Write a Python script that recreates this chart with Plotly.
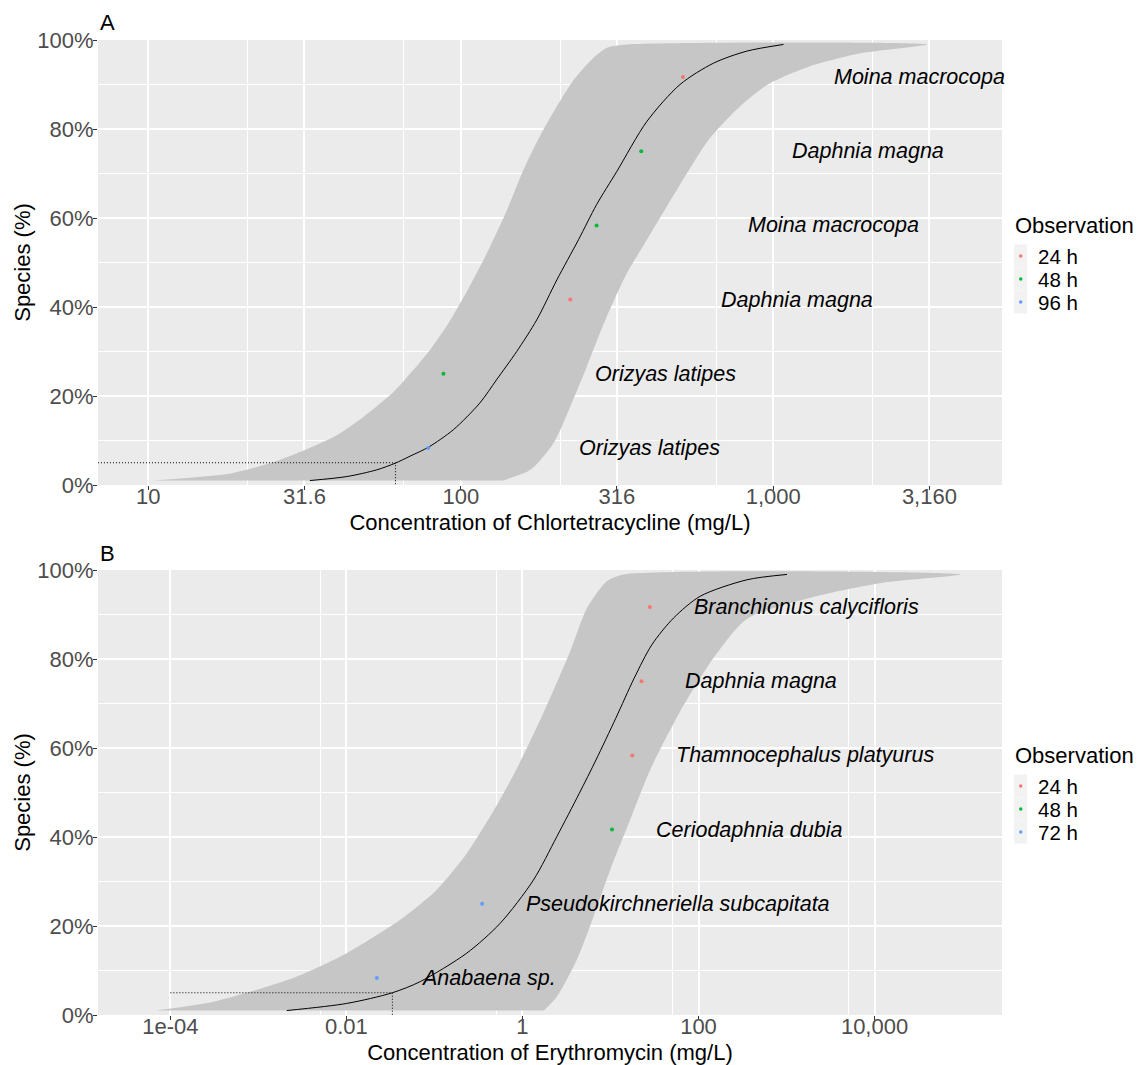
import numpy as np
import plotly.graph_objects as go

# ---------------- data: panel A (Chlortetracycline) ----------------
a_species = ["Orizyas latipes", "Orizyas latipes", "Daphnia magna",
             "Moina macrocopa", "Daphnia magna", "Moina macrocopa"]
a_conc = [78.7, 88.0, 224, 272, 378, 514]
a_frac = [0.0833, 0.25, 0.4167, 0.5833, 0.75, 0.9167]
a_obs = ["96 h", "48 h", "24 h", "48 h", "48 h", "24 h"]
a_levels = ["24 h", "48 h", "96 h"]

a_curve_frac = [0.01, 0.019, 0.034, 0.049, 0.065, 0.085, 0.124, 0.184, 0.236, 0.300,
                0.371, 0.461, 0.551, 0.630, 0.705, 0.817, 0.900, 0.948, 0.975, 0.99]
a_curve_conc = [32.9, 43.2, 53.8, 61.7, 68.9, 78.8, 94.6, 115, 130, 151,
                175, 203, 238, 272, 316, 394, 503, 644, 823, 1078]

a_lo_frac = [0.01, 0.026, 0.049, 0.077, 0.112, 0.153, 0.206, 0.236, 0.296, 0.363,
             0.453, 0.535, 0.62, 0.705, 0.802, 0.907, 0.960, 0.983, 0.99]
a_lo_conc = [10.3, 18.3, 24.5, 31.3, 40.1, 48.8, 60.3, 66.1, 78.2, 91.2,
             108, 124, 141, 158, 185, 228, 266, 295, 340]
a_hi_frac = [0.01, 0.034, 0.094, 0.176, 0.266, 0.378, 0.476, 0.551, 0.667, 0.775,
             0.850, 0.900, 0.940, 0.970, 0.99]
a_hi_conc = [136, 167, 198, 224, 253, 293, 340, 394, 495, 620,
             780, 960, 1300, 1900, 3105]

a_hc5 = 61.8
a_hc_start = 6.9
a_xticks = [10, 31.6, 100, 316, 1000, 3160]
a_xticktext = ["10", "31.6", "100", "316", "1,000", "3,160"]
a_xminor = [20.8, 65.8, 208, 658, 2080]
a_xrange_log = [0.839, 3.732]
a_xtitle = "Concentration of Chlortetracycline (mg/L)"

# ---------------- data: panel B (Erythromycin) ----------------
b_species = ["Anabaena sp.", "Pseudokirchneriella subcapitata", "Ceriodaphnia dubia",
             "Thamnocephalus platyurus", "Daphnia magna", "Branchionus calycifloris"]
b_conc = [0.0222, 0.348, 10.4, 17.7, 22.5, 28.0]
b_frac = [0.0833, 0.25, 0.4167, 0.5833, 0.75, 0.9167]
b_obs = ["72 h", "72 h", "48 h", "24 h", "24 h", "24 h"]
b_levels = ["24 h", "48 h", "72 h"]

b_curve_frac = [0.01, 0.026, 0.050, 0.075, 0.139, 0.206, 0.303, 0.401, 0.498, 0.573,
                0.667, 0.757, 0.832, 0.892, 0.941, 0.978, 0.99]
b_curve_conc = [0.0021, 0.0101, 0.0333, 0.0689, 0.233, 0.558, 1.33, 2.46, 4.42, 6.84,
                11.5, 18.6, 29.5, 52.0, 104.5, 355, 1012]

b_lo_frac = [0.01, 0.030, 0.052, 0.086, 0.139, 0.206, 0.236, 0.281, 0.363, 0.461,
             0.555, 0.682, 0.817, 0.915, 0.975, 0.99]
b_lo_conc = [6.9e-5, 3.1e-4, 8.0e-4, 2.7e-3, 0.0101, 0.0357, 0.0573, 0.106, 0.233, 0.477,
             0.870, 1.76, 3.48, 5.43, 9.1, 14.1]
b_hi_frac = [0.01, 0.041, 0.124, 0.221, 0.326, 0.438, 0.551, 0.682, 0.802, 0.89,
             0.943, 0.972, 0.99]
b_hi_conc = [1.75, 2.46, 4.15, 6.41, 9.93, 16.7, 28.3, 61.9, 148, 355,
             2400, 13000, 94200]

b_hc5 = 0.0333
b_hc_start = 1e-4
b_xticks = [1e-4, 0.01, 1, 100, 10000]
b_xticktext = ["1e-04", "0.01", "1", "100", "10,000"]
b_xminor = [0.00505, 0.505, 50.5, 5050]
b_xrange_log = [-4.822, 5.448]
b_xtitle = "Concentration of Erythromycin (mg/L)"

y_ticks = [0, 0.2, 0.4, 0.6, 0.8, 1.0]
y_ticktext = ["0%", "20%", "40%", "60%", "80%", "100%"]
y_minor = [0.1, 0.3, 0.5, 0.7, 0.9]

palette = ["#F8766D", "#00BA38", "#619CFF"]
label_shift = 3.0

# ---------------- layout geometry ----------------
W, H = 1137, 1065
ML, MR, MT, MB = 98, 135, 40, 50
PW = W - ML - MR
PH = H - MT - MB
FONT = "Liberation Sans, Arial, Helvetica, sans-serif"


def pxx(x):
    return (x - ML) / PW


def pxy(y):
    return 1 - (y - MT) / PH


fig = go.Figure()
annotations = []
shapes = []

panels = [
    dict(xa="x", ya="y", species=a_species, conc=a_conc, frac=a_frac, obs=a_obs,
         levels=a_levels, cf=a_curve_frac, cc=a_curve_conc, lf=a_lo_frac, lc=a_lo_conc,
         hf=a_hi_frac, hc=a_hi_conc, hc5=a_hc5, hcs=a_hc_start, tag="A", off=0),
    dict(xa="x2", ya="y2", species=b_species, conc=b_conc, frac=b_frac, obs=b_obs,
         levels=b_levels, cf=b_curve_frac, cc=b_curve_conc, lf=b_lo_frac, lc=b_lo_conc,
         hf=b_hi_frac, hc=b_hi_conc, hc5=b_hc5, hcs=b_hc_start, tag="B", off=530),
]

KEY_H = 23
for p in panels:
    # confidence ribbon
    fig.add_trace(go.Scatter(
        x=p["lc"] + p["hc"][::-1], y=p["lf"] + p["hf"][::-1],
        xaxis=p["xa"], yaxis=p["ya"], mode="lines", fill="toself",
        fillcolor="#C6C6C6", line=dict(width=0, shape="spline", smoothing=0.7),
        showlegend=False, hoverinfo="skip"))
    # HC5 dotted guides
    fig.add_trace(go.Scatter(
        x=[p["hcs"], p["hc5"], p["hc5"]], y=[0.05, 0.05, 0],
        xaxis=p["xa"], yaxis=p["ya"], mode="lines",
        line=dict(color="black", width=1, dash="1px,2px"),
        showlegend=False, hoverinfo="skip"))
    # fitted curve
    fig.add_trace(go.Scatter(
        x=p["cc"], y=p["cf"], xaxis=p["xa"], yaxis=p["ya"], mode="lines",
        line=dict(color="black", width=1, shape="spline", smoothing=0.8),
        showlegend=False, hoverinfo="skip"))
    # points by observation group
    for i, lev in enumerate(p["levels"]):
        xs = [c for c, o in zip(p["conc"], p["obs"]) if o == lev]
        ys = [f for f, o in zip(p["frac"], p["obs"]) if o == lev]
        fig.add_trace(go.Scatter(
            x=xs, y=ys, xaxis=p["xa"], yaxis=p["ya"], mode="markers",
            marker=dict(color=palette[i], size=4), name=lev, showlegend=False))
    # species labels
    for s, c, f in zip(p["species"], p["conc"], p["frac"]):
        annotations.append(dict(
            x=np.log10(c * label_shift), y=f, xref=p["xa"], yref=p["ya"],
            text=s, showarrow=False, xanchor="left", yanchor="middle",
            font=dict(family=FONT, size=21.5, color="black", style="italic")))
    # panel tag
    off = p["off"]
    annotations.append(dict(
        x=pxx(98), y=pxy(23 + off), xref="paper", yref="paper", text=p["tag"],
        showarrow=False, xanchor="left", yanchor="middle",
        font=dict(family=FONT, size=22, color="black")))
    # manual ggplot-style legend
    annotations.append(dict(
        x=pxx(1013), y=pxy(225 + off), xref="paper", yref="paper", text="Observation",
        showarrow=False, xanchor="left", yanchor="middle",
        font=dict(family=FONT, size=22, color="black")))
    for i, lev in enumerate(p["levels"]):
        top = 244.5 + off + KEY_H * i
        shapes.append(dict(type="rect", xref="paper", yref="paper",
                           x0=pxx(1014), x1=pxx(1027), y0=pxy(top), y1=pxy(top + KEY_H),
                           fillcolor="#F2F2F2", line=dict(width=0), layer="above"))
        cy = top + KEY_H / 2
        shapes.append(dict(type="circle", xref="paper", yref="paper",
                           x0=pxx(1019), x1=pxx(1022.5), y0=pxy(cy - 1.75), y1=pxy(cy + 1.75),
                           fillcolor=palette[i], line=dict(width=0), layer="above"))
        annotations.append(dict(
            x=pxx(1036), y=pxy(cy), xref="paper", yref="paper", text=lev,
            showarrow=False, xanchor="left", yanchor="middle",
            font=dict(family=FONT, size=20.5, color="black")))

tick_common = dict(ticks="outside", ticklen=4, tickwidth=1, tickcolor="#333333",
                   tickfont=dict(family=FONT, size=22, color="#4D4D4D"),
                   showgrid=True, gridcolor="white", gridwidth=1.8,
                   zeroline=False, showline=False, automargin=False)


def xaxis(dom_anchor, ticks, text, minor, rng, title):
    return dict(type="log", range=rng, tickmode="array", tickvals=ticks, ticktext=text,
                minor=dict(tickmode="array", tickvals=minor, showgrid=True,
                           gridcolor="white", gridwidth=0.9, ticks=""),
                anchor=dom_anchor, domain=[0, 1], ticklabelstandoff=-12,
                title=dict(text=title, font=dict(family=FONT, size=22, color="black"),
                           standoff=6),
                **tick_common)


def yaxis(anchor, dom):
    return dict(range=[0, 1], tickmode="array", tickvals=y_ticks, ticktext=y_ticktext,
                minor=dict(tickmode="array", tickvals=y_minor, showgrid=True,
                           gridcolor="white", gridwidth=0.9, ticks=""),
                anchor=anchor, domain=dom, ticklabelstandoff=-5,
                title=dict(text="Species (%)", font=dict(family=FONT, size=22, color="black"),
                           standoff=0),
                **tick_common)


fig.update_layout(
    width=W, height=H, autosize=False,
    margin=dict(l=ML, r=MR, t=MT, b=MB, pad=0),
    paper_bgcolor="white", plot_bgcolor="#EBEBEB",
    font=dict(family=FONT, size=22, color="black"),
    showlegend=False,
    xaxis=xaxis("y", a_xticks, a_xticktext, a_xminor, a_xrange_log, a_xtitle),
    yaxis=yaxis("x", [pxy(485), 1]),
    xaxis2=xaxis("y2", b_xticks, b_xticktext, b_xminor, b_xrange_log, b_xtitle),
    yaxis2=yaxis("x2", [0, pxy(570)]),
    annotations=annotations, shapes=shapes,
)

fig.write_html("out.html",
               config={"displayModeBar": False},
               post_script="document.body.style.margin='0px';"
                           "document.body.style.overflow='hidden';")
